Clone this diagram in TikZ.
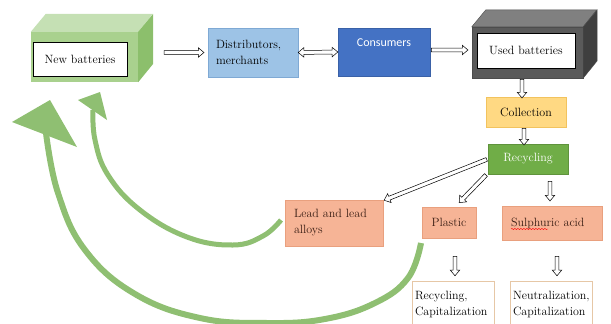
\documentclass[tikz,border=0pt]{standalone}
\usepackage{fontspec}
\newfontfamily\calibri{Carlito}
\usetikzlibrary{arrows.meta,calc,shapes.arrows,decorations.pathmorphing}

\definecolor{newfront}{HTML}{A9D18E}
\definecolor{newtop}{HTML}{C5E0B4}
\definecolor{newside}{HTML}{8CBF6C}
\definecolor{usedfront}{HTML}{5A5A5A}
\definecolor{usedtop}{HTML}{808080}
\definecolor{usedside}{HTML}{3F3F3F}
\definecolor{distfill}{HTML}{9DC3E6}
\definecolor{distline}{HTML}{7FA9D4}
\definecolor{consfill}{HTML}{4472C4}
\definecolor{collfill}{HTML}{FFD983}
\definecolor{collline}{HTML}{F2C35E}
\definecolor{recfill}{HTML}{70AD47}
\definecolor{salmon}{HTML}{F6B496}
\definecolor{salmonline}{HTML}{E9A07E}
\definecolor{tanline}{HTML}{E6C7A6}
\definecolor{arrowgreen}{HTML}{8FBF72}
\definecolor{brownink}{HTML}{3A1E14}

% hollow block arrow from #2 to #3
\newcommand\hollowarrow[3][single arrow]{%
	\path let \p1=($(#3)-(#2)$), \n1={veclen(\x1,\y1)} in
	(#2) -- (#3) node[hollow,#1,minimum height=\n1,pos=.5,sloped,allow upside down] {};}

\begin{document}
\begin{tikzpicture}[x=1pt,y=-1pt,font=\fontsize{12}{16}\selectfont,
	box/.style={rectangle,inner sep=3pt},
	product/.style={box,draw=salmonline,fill=salmon,text=brownink},
	outcome/.style={box,draw=tanline,fill=white,line width=.8pt,text width=76pt,align=left,minimum height=46pt},
	hollow/.style={draw,fill=white,line width=.5pt,inner sep=1.7pt,minimum width=0pt,
		single arrow head extend=2.8pt,double arrow head extend=2.8pt,
		single arrow tip angle=80,double arrow tip angle=80}]
	\clip (0,0) rectangle (611,324);
	% new batteries (green cube)
	\node[box,fill=newfront,minimum width=107pt,minimum height=50pt] (newbat) at (84.5,57) {};
	\fill[newtop] (newbat.north west) -- ++(15,-18) -- ++(107,0) -- (newbat.north east) -- cycle;
	\fill[newside] (newbat.north east) -- ++(15,-18) -- ++(0,50) -- (newbat.south east) -- cycle;
	\node[box,draw,fill=white,line width=.8pt,minimum width=94pt,minimum height=34pt] (newlbl) at (80,59) {New batteries};
	
	\node[box,draw=distline,fill=distfill,minimum width=90pt,minimum height=49pt,text width=74pt,align=left] (dist) at (253,52.5) {Distributors,\\merchants};
	\node[box,draw=consfill!85!black,fill=consfill,minimum width=92pt,minimum height=48pt,text=white,align=center,font=\calibri\fontsize{12}{15}\selectfont] (cons) at (384,52) {Consumers\\\strut};
	
	% used batteries (grey cube)
	\node[box,fill=usedfront,draw=black!70,minimum width=111pt,minimum height=51pt] (used) at (527.5,52.5) {};
	\fill[usedtop,draw=black!70] (used.north west) -- ++(14,-17) -- ++(111,0) -- (used.north east) -- cycle;
	\fill[usedside,draw=black!70] (used.north east) -- ++(14,-17) -- ++(0,51) -- (used.south east) -- cycle;
	\node[box,draw,fill=white,line width=.8pt,minimum width=98pt,minimum height=35pt] (usedlbl) at (526,50.5) {Used batteries};
	
	\node[box,draw=collline,fill=collfill,minimum width=80pt,minimum height=30pt] (coll) at (526,112) {Collection};
	\node[box,draw=recfill!85!black,fill=recfill,minimum width=80pt,minimum height=30pt,text=white] (recyc) at (528,159) {Recycling};
	
	\node[product,minimum width=98pt,minimum height=46pt,text width=80pt,align=left] (lead) at (334,223) {Lead and lead\\alloys};
	\node[product,minimum width=54pt,minimum height=31pt] (plastic) at (449,222.5) {Plastic};
	\node[product,minimum width=100pt,minimum height=34pt,text width=82pt,align=left] (sulph) at (552,223) {Sulphuric acid};
	\draw[red,decorate,decoration={snake,amplitude=.6pt,segment length=3pt}] ([xshift=-41pt,yshift=-6pt]sulph.center) -- ([xshift=-4pt,yshift=-6pt]sulph.center);
	
	\node[outcome] (reccap) at (453,304) {Recycling,\\Capitalization};
	\node[outcome] (neucap) at (551,304) {Neutralization,\\Capitalization};
	
	% hollow arrows
	\coordinate (newout) at (163,52.5);
	\coordinate (distin) at ([xshift=-5pt]dist.west);
	\coordinate (consout) at ([yshift=2pt]cons.east);
	\coordinate (usedin) at ([xshift=-5pt,yshift=2.5pt]used.west);
	\coordinate (usedout) at ([xshift=-5.5pt]used.south);
	\coordinate (collin) at ([xshift=-4pt]coll.north);
	\coordinate (collout) at ([xshift=-2pt]coll.south);
	\coordinate (recin) at ([xshift=-4pt]recyc.north);
	\coordinate (leadin) at ([xshift=2pt]lead.north east);
	\coordinate (plasout) at ([xshift=-1pt]recyc.south west);
	\coordinate (plasin) at ([xshift=11pt,yshift=5pt]plastic.north);
	\coordinate (sulout) at ([xshift=22pt,yshift=-6pt]recyc.south);
	\coordinate (sulin) at ([xshift=-2pt,yshift=6pt]sulph.north);
	\coordinate (plasdown) at ([xshift=6pt,yshift=-17pt]plastic.south);
	\coordinate (recapin) at ([xshift=2pt,yshift=6pt]reccap.north);
	\coordinate (suldown) at ([xshift=5pt,yshift=-15pt]sulph.south);
	\coordinate (neuin) at ([xshift=6pt,yshift=6pt]neucap.north);
	\hollowarrow{newout}{distin}
	\hollowarrow[double arrow]{dist.east}{cons.west}
	\hollowarrow{consout}{usedin}
	\hollowarrow{usedout}{collin}
	\hollowarrow{collout}{recin}
	\hollowarrow{recyc.west}{leadin}
	\hollowarrow{plasout}{plasin}
	\hollowarrow{sulout}{sulin}
	\hollowarrow{plasdown}{recapin}
	\hollowarrow{suldown}{neuin}
	
	% green curved arrows back to new batteries
	\draw[arrowgreen,line width=5pt] plot[smooth,tension=.7] coordinates {(281,220) (263,236) (233,245) (187,237) (140,210) (108,175) (95,140) (93,110)};
	\fill[arrowgreen] (78,100) -- (100,92) -- (107,120) -- cycle;
	\draw[arrowgreen,line width=6pt] plot[smooth,tension=.7] coordinates {(421,243) (408,278) (375,303) (325,319) (267,323) (200,318) (135,294) (85,250) (58,193) (46,133)};
	\fill[arrowgreen] (12,122) -- (50,100) -- (77,147) -- cycle;
\end{tikzpicture}
\end{document}
